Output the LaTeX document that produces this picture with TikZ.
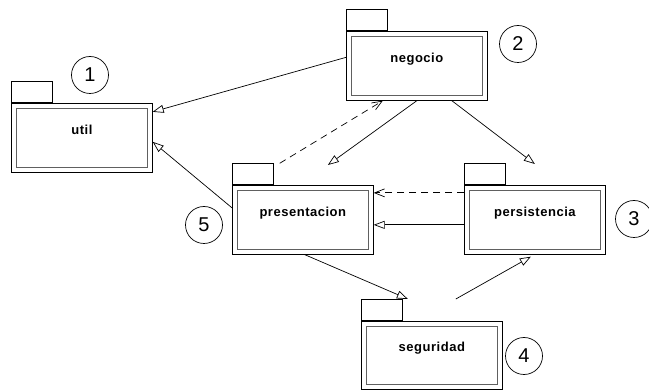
\documentclass[tikz,border=0pt]{standalone}
\usepackage{fontspec}
\setmainfont{Liberation Sans}
\usetikzlibrary{arrows.meta, positioning}

\begin{document}
\begin{tikzpicture}[x=1pt, y=-1pt, line width=0.7pt,
		pkg/.style={draw, rectangle, anchor=north west,
			minimum width=141pt, minimum height=69pt,
			font=\bfseries\fontsize{13}{15}\selectfont\addfontfeature{LetterSpace=4},
			text height=10pt, text depth=17pt,
			path picture={\draw[gray!75!black, line width=0.8pt]
				([shift={(5pt,-5pt)}]path picture bounding box.north west) rectangle
				([shift={(-5pt,5pt)}]path picture bounding box.south east);}},
		tab/.style={draw, rectangle, minimum width=41pt, minimum height=21pt, inner sep=0pt},
		num/.style={draw, circle, minimum size=37pt, inner sep=0pt,
			font=\fontsize{20}{22}\selectfont},
		uses/.style={-{Triangle[open, length=11pt, width=8pt]}},
		dep/.style={dash pattern=on 7pt off 5pt, -{Straight Barb[length=10pt, width=8pt]}}]
	\useasboundingbox (0,0) rectangle (649,390);

	% packages
	\node (util) [pkg] at (11,103) {util};
	\node (utiltab) [tab, above right=0pt of util.north west] {};
	\node (negocio) [pkg] at (346,31) {negocio};
	\node (negociotab) [tab, above right=0pt of negocio.north west] {};
	\node (presentacion) [pkg] at (232,185) {presentacion};
	\node (presentaciontab) [tab, above right=0pt of presentacion.north west] {};
	\node (persistencia) [pkg] at (464,185) {persistencia};
	\node (persistenciatab) [tab, above right=0pt of persistencia.north west] {};
	\node (seguridad) [pkg, minimum height=68pt] at (361,321) {seguridad};
	\node (seguridadtab) [tab, above right=0pt of seguridad.north west] {};

	% numbers
	\node (n1) [num] at (90,75) {1};
	\node (n2) [num] at (518,44) {2};
	\node (n3) [num] at (634,219) {3};
	\node (n4) [num] at (524,356) {4};
	\node (n5) [num] at (204,225) {5};

	% dependencies
	\draw [uses] ([yshift=8.5pt]negocio.west) -- ([yshift=26pt]util.east);
	\draw [uses] ([yshift=12pt]presentacion.west) -- ([yshift=-4pt]util.east);
	\draw [dep] ([xshift=6pt]presentaciontab.north east) -- ([xshift=-34pt]negocio.south);
	\draw [uses] (negocio.south) -- ([shift={(25pt,20pt)}]presentacion.north);
	\draw [uses] ([xshift=35pt]negocio.south) -- ([yshift=21pt]persistencia.north);
	\draw [dep] ([yshift=27pt]persistencia.west) -- ([yshift=27pt]presentacion.east);
	\draw [uses] ([yshift=-5pt]persistencia.west) -- ([yshift=-5pt]presentacion.east);
	\draw [uses] ([xshift=2pt]presentacion.south) -- ([shift={(-24pt,22pt)}]seguridad.north);
	\draw [uses] ([shift={(24pt,22pt)}]seguridad.north) -- ([shift={(-4pt,-2pt)}]persistencia.south);
\end{tikzpicture}
\end{document}
